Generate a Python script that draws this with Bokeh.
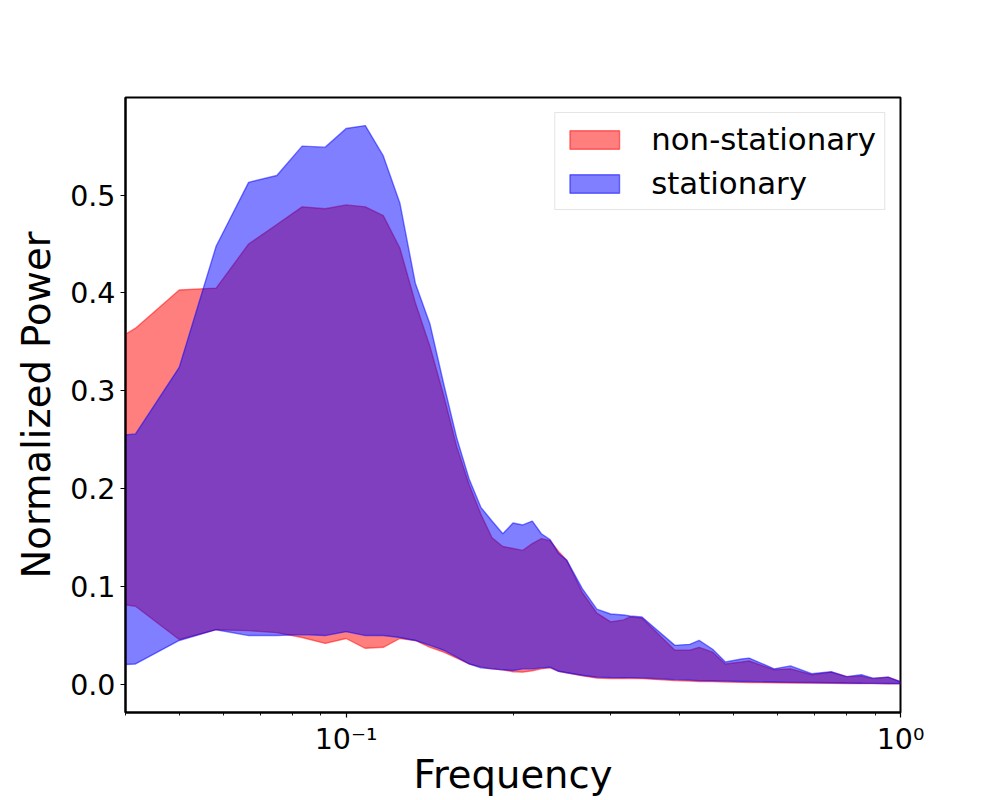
from bokeh.plotting import figure
from bokeh.models import Range1d, FixedTicker, Legend, LegendItem
from bokeh.embed import file_html
from bokeh.resources import INLINE

# Frequency grid
freq = [0.0333, 0.0417, 0.05, 0.0583, 0.0667, 0.075, 0.0833, 0.0917, 0.1, 0.1083,
        0.1167, 0.125, 0.1333, 0.1417, 0.15, 0.1583, 0.1667, 0.175, 0.1833, 0.1917,
        0.2, 0.2083, 0.2167, 0.225, 0.2333, 0.2417, 0.25, 0.2667, 0.2833, 0.3,
        0.3167, 0.325, 0.3417, 0.3917, 0.4167, 0.4333, 0.4583, 0.4833, 0.5167, 0.5333,
        0.5917, 0.6333, 0.6917, 0.75, 0.8, 0.85, 0.8917, 0.95, 1.0]

# non-stationary band
nonstat_upper = [0.330, 0.364, 0.403, 0.405, 0.450, 0.470, 0.488, 0.486, 0.490, 0.488,
                 0.479, 0.446, 0.390, 0.345, 0.295, 0.243, 0.204, 0.174, 0.150, 0.141,
                 0.139, 0.137, 0.144, 0.149, 0.147, 0.136, 0.127, 0.094, 0.073, 0.064,
                 0.066, 0.069, 0.068, 0.035, 0.035, 0.038, 0.033, 0.021, 0.023, 0.024,
                 0.015, 0.016, 0.010, 0.0126, 0.008, 0.0085, 0.006, 0.0075, 0.0027]
nonstat_lower = [0.088, 0.080, 0.046, 0.056, 0.055, 0.053, 0.048, 0.042, 0.047, 0.037,
                 0.038, 0.047, 0.045, 0.038, 0.033, 0.027, 0.021, 0.018, 0.016, 0.015,
                 0.013, 0.0126, 0.014, 0.016, 0.017, 0.0135, 0.012, 0.009, 0.0065, 0.0062,
                 0.0062, 0.0063, 0.006, 0.004, 0.0035, 0.003, 0.003, 0.0025, 0.0022, 0.002,
                 0.0018, 0.0016, 0.0014, 0.0012, 0.001, 0.001, 0.0009, 0.0008, 0.0007]

# stationary band
stat_upper = [0.250, 0.256, 0.324, 0.448, 0.513, 0.520, 0.550, 0.549, 0.568, 0.571,
              0.540, 0.492, 0.410, 0.368, 0.307, 0.252, 0.210, 0.181, 0.167, 0.154,
              0.165, 0.163, 0.167, 0.154, 0.148, 0.134, 0.127, 0.098, 0.077, 0.072,
              0.071, 0.070, 0.069, 0.040, 0.041, 0.045, 0.036, 0.023, 0.026, 0.027,
              0.016, 0.019, 0.011, 0.013, 0.008, 0.010, 0.0065, 0.0075, 0.003]
stat_lower = [0.018, 0.021, 0.045, 0.056, 0.050, 0.050, 0.051, 0.050, 0.054, 0.050,
              0.050, 0.048, 0.045, 0.040, 0.035, 0.028, 0.021, 0.017, 0.016, 0.015,
              0.0143, 0.016, 0.016, 0.017, 0.0177, 0.0135, 0.012, 0.0095, 0.0075, 0.0072,
              0.007, 0.007, 0.0068, 0.005, 0.0045, 0.004, 0.0038, 0.0035, 0.003, 0.003,
              0.0025, 0.0022, 0.002, 0.0018, 0.0015, 0.0013, 0.0012, 0.001, 0.001]

series_labels = ["non-stationary", "stationary"]
y_ticks = [0.0, 0.1, 0.2, 0.3, 0.4, 0.5]
x_major = [0.1, 1.0]
x_minor = [0.04, 0.05, 0.06, 0.07, 0.08, 0.09, 0.2, 0.3, 0.4, 0.5, 0.6, 0.7, 0.8, 0.9]
x_labels = {0.1: "10\u207b\u00b9", 1.0: "10\u2070"}

FONT = "DejaVu Sans"

p = figure(width=1000, height=800, x_axis_type="log",
           x_range=Range1d(0.04, 1.0), y_range=Range1d(-0.0286, 0.5997),
           output_backend="svg", toolbar_location=None,
           min_border_left=125, min_border_right=100, min_border_top=97, min_border_bottom=88)
p.background_fill_color = "white"
p.border_fill_color = "white"
p.xgrid.visible = False
p.ygrid.visible = False
p.outline_line_color = "black"
p.outline_line_width = 2

def band(lower, upper, color):
    xs = freq + freq[::-1]
    ys = upper + lower[::-1]
    return p.patch(xs, ys, fill_color=color, fill_alpha=0.5,
                   line_color=color, line_alpha=0.5, line_width=1.4)

r_red = band(nonstat_lower, nonstat_upper, "red")
r_blue = band(stat_lower, stat_upper, "blue")

legend = Legend(items=[LegendItem(label=series_labels[0], renderers=[r_red]),
                       LegendItem(label=series_labels[1], renderers=[r_blue])],
                location="top_right")
legend.margin = 15
legend.padding = 8
legend.spacing = 8
legend.glyph_width = 62
legend.glyph_height = 23
legend.label_height = 30
legend.label_standoff = 26
legend.label_text_font = FONT
legend.label_text_font_size = "30.8px"
legend.label_text_color = "black"
legend.border_line_color = "#cccccc"
legend.border_line_width = 1.2
legend.background_fill_color = "white"
legend.background_fill_alpha = 0.8
p.add_layout(legend)

xa = p.xaxis[0]
xa.ticker = FixedTicker(ticks=x_major, minor_ticks=x_minor)
xa.major_label_overrides = x_labels
ya = p.yaxis[0]
ya.ticker = FixedTicker(ticks=y_ticks)
ya.major_label_overrides = {v: f"{v:.1f}" for v in y_ticks}

for ax in (xa, ya):
    ax.axis_line_color = "black"
    ax.axis_line_width = 2
    ax.major_tick_in = 0
    ax.major_tick_out = 5
    ax.major_tick_line_width = 1.2
    ax.major_tick_line_color = "black"
    ax.minor_tick_in = 0
    ax.minor_tick_out = 3
    ax.minor_tick_line_width = 0.9
    ax.minor_tick_line_color = "black"
    ax.major_label_text_font = FONT
    ax.major_label_text_font_size = "28.5px"
    ax.major_label_text_color = "black"
    ax.major_label_standoff = 5
    ax.axis_label_text_font = FONT
    ax.axis_label_text_font_size = "38.5px"
    ax.axis_label_text_font_style = "normal"
    ax.axis_label_text_color = "black"
ya.minor_tick_line_color = None
xa.axis_label = "Frequency"
ya.axis_label = "Normalized Power"
xa.axis_label_standoff = -7
ya.axis_label_standoff = 8

open("out.html", "w").write(file_html(p, INLINE))
